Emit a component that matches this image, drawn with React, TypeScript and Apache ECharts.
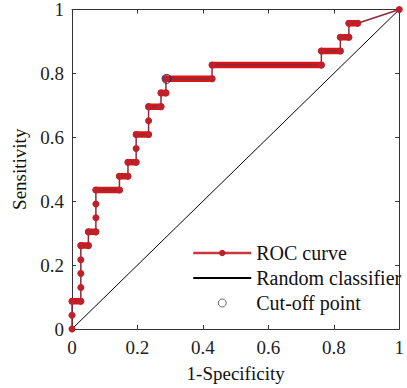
import React, { useEffect, useRef } from "react";
import * as echarts from "echarts";

const rocFpr = [0, 0, 0, 0.027, 0.027, 0.027, 0.027, 0.027, 0.05, 0.05, 0.073, 0.073, 0.073, 0.073, 0.145, 0.145, 0.171, 0.171, 0.196, 0.196, 0.196, 0.234, 0.234, 0.234, 0.272, 0.272, 0.287, 0.287, 0.428, 0.428, 0.762, 0.762, 0.82, 0.82, 0.846, 0.846, 0.873, 1];
const rocTpr = [0, 0.043, 0.087, 0.087, 0.13, 0.174, 0.217, 0.261, 0.261, 0.304, 0.304, 0.348, 0.391, 0.435, 0.435, 0.478, 0.478, 0.522, 0.522, 0.565, 0.609, 0.609, 0.652, 0.696, 0.696, 0.739, 0.739, 0.783, 0.783, 0.826, 0.826, 0.870, 0.870, 0.913, 0.913, 0.957, 0.957, 1];
const randomFpr = [0, 1];
const randomTpr = [0, 1];
const cutoffFpr = [0.289];
const cutoffTpr = [0.783];
const axisTicks = [0, 0.2, 0.4, 0.6, 0.8, 1];

const FONT = "Liberation Serif";

export default function App() {
  const ref = useRef<HTMLDivElement>(null);
  useEffect(() => {
    if (!ref.current) return;
    const chart = echarts.init(ref.current, undefined, { renderer: "svg" });
    const rocData = rocFpr.map((x, i) => [x, rocTpr[i]]);
    const bands: any[] = [];
    for (let i = 0; i < rocFpr.length - 1; i++) {
      if (rocTpr[i] === rocTpr[i + 1] && rocFpr[i] !== rocFpr[i + 1]) {
        bands.push({
          type: "line",
          name: "band" + i,
          data: [[rocFpr[i], rocTpr[i]], [rocFpr[i + 1], rocTpr[i + 1]]],
          symbol: "none",
          lineStyle: { color: "#d41818", width: 6.5, cap: "round" },
          z: 3,
          silent: true,
        });
      }
    }
    const fmt = (v: number) => String(axisTicks.find((t) => Math.abs(t - v) < 1e-9) ?? v);
    const axisCommon = {
      type: "value" as const,
      min: 0,
      max: 1,
      interval: 0.2,
      splitLine: { show: false },
      axisLine: { show: true, onZero: false, lineStyle: { color: "#333", width: 1 } },
      axisTick: { show: true, inside: true, length: 4, lineStyle: { color: "#333" } },
    };
    chart.setOption({
      animation: false,
      backgroundColor: "#fff",
      textStyle: { fontFamily: FONT },
      grid: { left: 72, top: 3, width: 330, height: 331, show: false },
      legend: {
        orient: "vertical",
        left: 187,
        top: 238,
        itemWidth: 58,
        itemHeight: 8,
        itemGap: 5,
        textStyle: { fontFamily: FONT, fontSize: 20, color: "#111" },
        data: [
          { name: "ROC curve", lineStyle: { color: "#c8383a", width: 2.5 } },
          {
            name: "Random classifier",
            lineStyle: { color: "#000", width: 2 },
            itemStyle: { color: "rgba(0,0,0,0)", borderWidth: 0 },
          },
          { name: "Cut-off point", itemStyle: { color: "rgba(0,0,0,0)", borderColor: "#444", borderWidth: 1 } },
        ],
      },
      xAxis: [
        {
          ...axisCommon,
          position: "bottom",
          name: "1-Specificity",
          nameLocation: "middle",
          nameGap: 35,
          nameTextStyle: { fontFamily: FONT, fontSize: 19, color: "#111" },
          axisLabel: { fontFamily: FONT, fontSize: 19, color: "#222", margin: 9, formatter: fmt },
        },
        { ...axisCommon, position: "top", axisLabel: { show: false } },
      ],
      yAxis: [
        {
          ...axisCommon,
          position: "left",
          name: "Sensitivity",
          nameLocation: "middle",
          nameGap: 42,
          nameTextStyle: { fontFamily: FONT, fontSize: 19, color: "#111" },
          axisLabel: { fontFamily: FONT, fontSize: 19, color: "#222", margin: 8, formatter: fmt },
        },
        { ...axisCommon, position: "right", axisLabel: { show: false } },
      ],
      series: [
        {
          type: "line",
          name: "Random classifier",
          data: randomFpr.map((x, i) => [x, randomTpr[i]]),
          symbol: "none",
          lineStyle: { color: "#000", width: 1 },
          itemStyle: { color: "#000" },
          z: 2,
        },
        ...bands,
        {
          type: "line",
          name: "ROC curve",
          data: rocData,
          symbol: "circle",
          symbolSize: 7,
          showSymbol: true,
          lineStyle: { color: "#8b2a3a", width: 1.5 },
          itemStyle: { color: "#c0202a" },
          z: 4,
        },
        {
          type: "scatter",
          name: "Cut-off point",
          data: cutoffFpr.map((x, i) => [x, cutoffTpr[i]]),
          symbol: "circle",
          symbolSize: 9,
          itemStyle: { color: "rgba(0,0,0,0)", borderColor: "#2a2a50", borderWidth: 1.2 },
          z: 5,
        },
      ],
    });
    return () => chart.dispose();
  }, []);
  return (
    <div
      ref={ref}
      style={{ position: "fixed", left: 0, top: 0, width: 407, height: 388, background: "#fff" }}
    />
  );
}
